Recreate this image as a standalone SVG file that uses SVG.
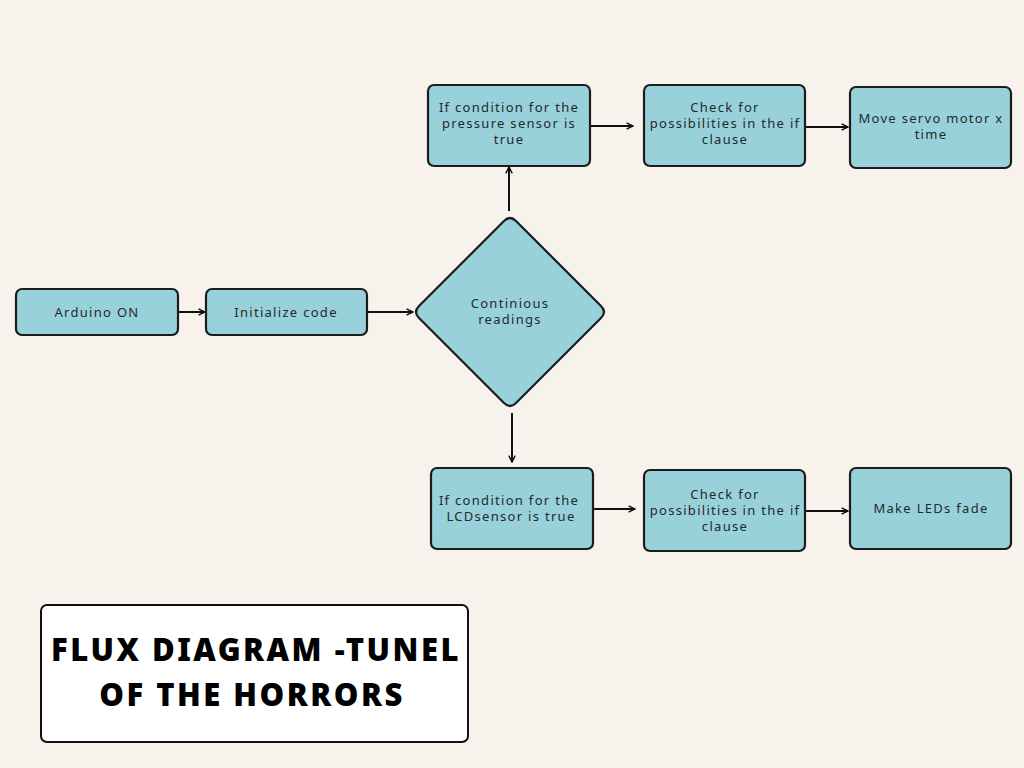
<svg xmlns="http://www.w3.org/2000/svg" width="1024" height="768" viewBox="0 0 1024 768">
<defs>
<style>
.n{fill:#98d1da;stroke:#1c1c1c;stroke-width:2.2}
.t{font-family:"Noto Sans","DejaVu Sans",sans-serif;font-size:13px;fill:#1f2a2e;text-anchor:middle;letter-spacing:1.3px}
.c{stroke:#111;stroke-width:2;fill:none;marker-end:url(#ah)}
.title{font-family:"Noto Sans","DejaVu Sans",sans-serif;font-weight:900;font-size:31px;fill:#000;text-anchor:middle;letter-spacing:2.5px}
</style>
<marker id="ah" viewBox="0 0 10 10" refX="9" refY="5" markerWidth="8" markerHeight="8" markerUnits="userSpaceOnUse" orient="auto">
<path d="M1,1 L9,5 L1,9" fill="none" stroke="#111" stroke-width="1.8"/>
</marker>
</defs>
<rect width="1024" height="768" fill="#f7f2ec"/>
<g id="connectors">
<line class="c" x1="178" y1="312" x2="205" y2="312"/>
<line class="c" x1="367" y1="312" x2="413" y2="312"/>
<line class="c" x1="509" y1="211" x2="509" y2="167"/>
<line class="c" x1="590" y1="126" x2="633" y2="126"/>
<line class="c" x1="805" y1="127" x2="848" y2="127"/>
<line class="c" x1="512" y1="413" x2="512" y2="462"/>
<line class="c" x1="593" y1="509" x2="635" y2="509"/>
<line class="c" x1="805" y1="511" x2="848" y2="511"/>
</g>
<g id="arduino">
<rect class="n" x="16" y="289" width="162" height="46" rx="6"/>
<text class="t" x="97" y="317">Arduino ON</text>
</g>
<g id="init">
<rect class="n" x="206" y="289" width="161" height="46" rx="6"/>
<text class="t" x="286" y="317">Initialize code</text>
</g>
<g id="readings">
<path class="n" d="M504,221 Q510,215 516,221 L601,306 Q607,312 601,318 L516,403 Q510,409 504,403 L419,318 Q413,312 419,306 Z"/>
<text class="t" x="510" y="308">Continious</text>
<text class="t" x="510" y="324">readings</text>
</g>
<g id="pressure">
<rect class="n" x="428" y="85" width="162" height="81" rx="6"/>
<text class="t" x="509" y="112">If condition for the</text>
<text class="t" x="509" y="128">pressure sensor is</text>
<text class="t" x="509" y="144">true</text>
</g>
<g id="check1">
<rect class="n" x="644" y="85" width="161" height="81" rx="6"/>
<text class="t" x="725" y="112">Check for</text>
<text class="t" x="725" y="128">possibilities in the if</text>
<text class="t" x="725" y="144">clause</text>
</g>
<g id="servo">
<rect class="n" x="850" y="87" width="161" height="81" rx="6"/>
<text class="t" x="931" y="123">Move servo motor x</text>
<text class="t" x="931" y="139">time</text>
</g>
<g id="lcd">
<rect class="n" x="431" y="468" width="162" height="81" rx="6"/>
<text class="t" x="509" y="505">If condition for the</text>
<text class="t" x="511" y="521">LCDsensor is true</text>
</g>
<g id="check2">
<rect class="n" x="644" y="470" width="161" height="81" rx="6"/>
<text class="t" x="725" y="499">Check for</text>
<text class="t" x="725" y="515">possibilities in the if</text>
<text class="t" x="725" y="531">clause</text>
</g>
<g id="leds">
<rect class="n" x="850" y="468" width="161" height="81" rx="6"/>
<text class="t" x="931" y="513">Make LEDs fade</text>
</g>
<g id="title">
<rect x="41" y="605" width="427" height="137" rx="6" fill="#fff" stroke="#111" stroke-width="2"/>
<text class="title" x="256" y="661">FLUX DIAGRAM -TUNEL</text>
<text class="title" x="252" y="706">OF THE HORRORS</text>
</g>
</svg>
